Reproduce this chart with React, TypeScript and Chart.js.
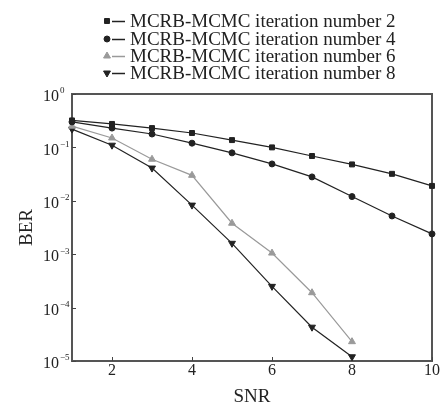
import { useEffect, useRef } from "react";
import { Chart, registerables } from "chart.js";
Chart.register(...registerables);

const snr = [1, 2, 3, 4, 5, 6, 7, 8, 9, 10];
const ber2 = [0.32, 0.275, 0.23, 0.186, 0.137, 0.1, 0.069, 0.048, 0.032, 0.019];
const ber4 = [0.3, 0.23, 0.178, 0.12, 0.079, 0.049, 0.028, 0.012, 0.0052, 0.0024];
const ber6 = [0.25, 0.15, 0.06, 0.03, 0.0038, 0.00105, 0.00019, 0.000023];
const ber8 = [0.22, 0.11, 0.041, 0.0083, 0.0016, 0.00025, 0.000043, 0.000012];
const seriesLabels = [
  "MCRB-MCMC iteration number 2",
  "MCRB-MCMC iteration number 4",
  "MCRB-MCMC iteration number 6",
  "MCRB-MCMC iteration number 8",
];
const yTickValues = [1, 0.1, 0.01, 0.001, 0.0001, 0.00001];
const yTickExponents = ["0", "-1", "-2", "-3", "-4", "-5"];
const xTickValues = [2, 4, 6, 8, 10];
const xTitle = "SNR";
const yTitle = "BER";

const SERIF = "'Liberation Serif', 'Times New Roman', serif";
const TEXT = "#222";

const styles = [
  { color: "#222", point: "rect", radius: 3.5, rotation: 0 },
  { color: "#222", point: "circle", radius: 3, rotation: 0 },
  { color: "#9a9a9a", point: "triangle", radius: 4, rotation: 0 },
  { color: "#222", point: "triangle", radius: 4, rotation: 180 },
];

const toXY = (vals: number[]) => vals.map((v, i) => ({ x: snr[i], y: v }));

const decorPlugin = {
  id: "decor",
  beforeDatasetsDraw(chart: any) {
    const { ctx, chartArea } = chart;
    const xs = chart.scales.x;
    const ys = chart.scales.y;
    ctx.save();
    ctx.strokeStyle = "#555";
    ctx.lineWidth = 2;
    ctx.strokeRect(chartArea.left, chartArea.top, chartArea.right - chartArea.left, chartArea.bottom - chartArea.top);
    ctx.lineWidth = 1;
    ctx.strokeStyle = "#444";
    ctx.beginPath();
    xTickValues.forEach((v) => {
      const px = Math.round(xs.getPixelForValue(v)) + 0.5;
      ctx.moveTo(px, chartArea.bottom);
      ctx.lineTo(px, chartArea.bottom - 4);
    });
    yTickValues.forEach((v) => {
      const py = Math.round(ys.getPixelForValue(v)) + 0.5;
      ctx.moveTo(chartArea.left, py);
      ctx.lineTo(chartArea.left + 4, py);
    });
    ctx.stroke();
    ctx.restore();
  },
  afterDraw(chart: any) {
    const { ctx, chartArea } = chart;
    const xs = chart.scales.x;
    const ys = chart.scales.y;
    ctx.save();
    ctx.fillStyle = TEXT;
    // x tick labels
    ctx.font = `16px ${SERIF}`;
    ctx.textAlign = "center";
    ctx.textBaseline = "middle";
    xTickValues.forEach((v) => {
      ctx.fillText(String(v), xs.getPixelForValue(v), chartArea.bottom + 10);
    });
    // y tick labels
    yTickValues.forEach((v, i) => {
      const py = ys.getPixelForValue(v);
      ctx.font = `16px ${SERIF}`;
      ctx.textAlign = "right";
      ctx.textBaseline = "middle";
      ctx.fillText("10", chartArea.left - 13, py + 3);
      ctx.font = `9px ${SERIF}`;
      ctx.textAlign = "left";
      ctx.fillText(yTickExponents[i].replace("-", "\u2212"), chartArea.left - 12, py - 3);
    });
    // titles
    ctx.font = `19px ${SERIF}`;
    ctx.textAlign = "center";
    ctx.textBaseline = "middle";
    ctx.fillText(xTitle, (chartArea.left + chartArea.right) / 2, chartArea.bottom + 36);
    ctx.save();
    ctx.translate(27, (chartArea.top + chartArea.bottom) / 2);
    ctx.rotate(-Math.PI / 2);
    ctx.fillText(yTitle, 0, 0);
    ctx.restore();
    // legend
    const rowsY = [21, 39, 56, 73];
    seriesLabels.forEach((label, i) => {
      const st = styles[i];
      const y = rowsY[i];
      ctx.strokeStyle = st.color;
      ctx.lineWidth = 1.5;
      ctx.beginPath();
      ctx.moveTo(112, y + 0.5);
      ctx.lineTo(125, y + 0.5);
      ctx.stroke();
      ctx.fillStyle = st.color;
      ctx.strokeStyle = st.color;
      ctx.lineWidth = 1;
      (Chart as any).helpers?.drawPoint?.(ctx, { pointStyle: st.point, radius: st.radius, rotation: st.rotation, borderWidth: 1 }, 107, y);
      ctx.fillStyle = TEXT;
      ctx.font = `19px ${SERIF}`;
      ctx.textAlign = "left";
      ctx.textBaseline = "middle";
      ctx.fillText(label, 130, y + 1);
    });
    ctx.restore();
  },
};

function drawMarker(ctx: CanvasRenderingContext2D, style: string, r: number, rot: number, x: number, y: number) {
  ctx.beginPath();
  if (style === "rect") {
    const s = r * Math.SQRT1_2;
    ctx.rect(x - s, y - s, 2 * s, 2 * s);
  } else if (style === "circle") {
    ctx.arc(x, y, r, 0, Math.PI * 2);
  } else {
    const dir = rot === 180 ? -1 : 1;
    ctx.moveTo(x, y - dir * r);
    ctx.lineTo(x - r * 0.866 * 1.0, y + dir * r * 0.5);
    ctx.lineTo(x + r * 0.866, y + dir * r * 0.5);
    ctx.closePath();
  }
  ctx.fill();
  ctx.stroke();
}

const legendMarkerPlugin = {
  id: "legendMarkers",
  afterDraw(chart: any) {
    const ctx = chart.ctx;
    const rowsY = [21, 39, 56, 73];
    ctx.save();
    styles.forEach((st, i) => {
      ctx.fillStyle = st.color;
      ctx.strokeStyle = st.color;
      ctx.lineWidth = 1;
      drawMarker(ctx, st.point, st.radius, st.rotation, 107, rowsY[i]);
    });
    ctx.restore();
  },
};

export default function App() {
  const ref = useRef<HTMLCanvasElement | null>(null);
  useEffect(() => {
    document.body.style.margin = "0";
    if (!ref.current) return;
    const series = [ber2, ber4, ber6, ber8];
    const chart = new Chart(ref.current, {
      type: "line",
      data: {
        datasets: series.map((vals, i) => ({
          label: seriesLabels[i],
          data: toXY(vals),
          borderColor: styles[i].color,
          backgroundColor: styles[i].color,
          pointBackgroundColor: styles[i].color,
          pointBorderColor: styles[i].color,
          borderWidth: 1.2,
          pointStyle: styles[i].point as any,
          pointRadius: styles[i].radius,
          pointRotation: styles[i].rotation,
          pointBorderWidth: 1,
          tension: 0,
          clip: false as any,
        })),
      },
      options: {
        animation: false,
        responsive: true,
        maintainAspectRatio: false,
        layout: { padding: { left: 72, right: 10, top: 94, bottom: 45 } },
        plugins: { legend: { display: false }, tooltip: { enabled: false } },
        scales: {
          x: { type: "linear", min: 1, max: 10, display: false },
          y: { type: "logarithmic", min: 0.00001, max: 1, display: false },
        },
      },
      plugins: [decorPlugin, legendMarkerPlugin],
    });
    return () => chart.destroy();
  }, []);
  return (
    <div style={{ width: 442, height: 406, position: "relative", overflow: "hidden", background: "#fff" }}>
      <canvas ref={ref} />
    </div>
  );
}
